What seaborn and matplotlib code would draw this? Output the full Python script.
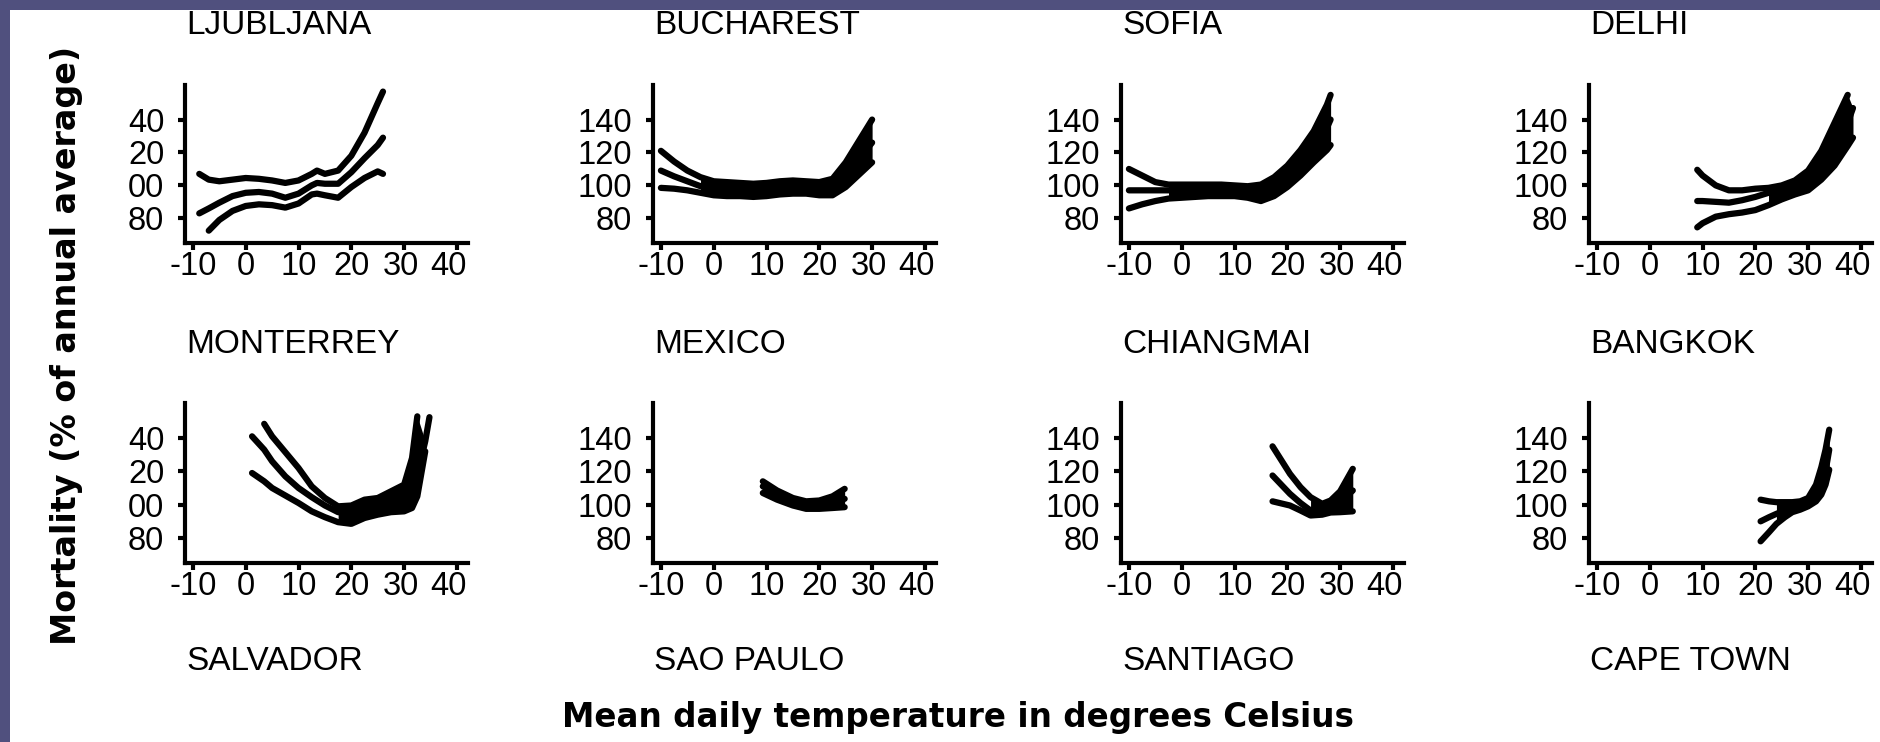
import numpy as np
import pandas as pd
import matplotlib
matplotlib.use("Agg")
import matplotlib.pyplot as plt
from matplotlib.patches import Rectangle
from matplotlib.transforms import ScaledTranslation
import seaborn as sns

# ---------------- data ----------------
x_ticks = [-10, 0, 10, 20, 30, 40]
x_tick_labels = ["-10", "0", "10", "20", "30", "40"]
y_ticks = [80, 100, 120, 140]
y_tick_labels_first_col = ["80", "00", "20", "40"]
y_tick_labels_other_cols = ["80", "100", "120", "140"]

city_names = ["LJUBLJANA", "BUCHAREST", "SOFIA", "DELHI",
              "MONTERREY", "MEXICO", "CHIANGMAI", "BANGKOK"]
bottom_row_names = ["SALVADOR", "SAO PAULO", "SANTIAGO", "CAPE TOWN"]

nan = np.nan

ljubljana_temp = [-8.8, -7, -5, -2.5, 0, 2.5, 5, 7.5, 10, 12.5, 13.5, 15, 17.5, 20, 22.5, 25, 26]
ljubljana_upper = [107, 103.5, 102.5, 103.5, 104.5, 104, 103, 101.5, 103, 107, 109, 107, 109, 118, 132, 150, 157]
ljubljana_middle = [83, 86, 89.5, 93.5, 95.5, 96, 95, 92.5, 95, 100, 101.5, 101, 101, 108, 116.5, 124.5, 129]
ljubljana_lower = [nan, 72.5, 79, 84.5, 87.5, 88.5, 88, 86.5, 89, 94.5, 95, 94, 92.5, 99, 104.5, 108.5, 107]
ljubljana_fill_from = 99

bucharest_temp = [-10, -7.5, -5, -2.5, 0, 2.5, 5, 7.5, 10, 12.5, 15, 17.5, 20, 22.5, 25, 27.5, 30]
bucharest_upper = [121, 114.5, 109, 105, 102.5, 102, 101.5, 101, 101.5, 102.5, 103, 102.5, 102, 104, 114, 127, 140]
bucharest_middle = [109, 105.5, 102.5, 99.5, 98, 97.5, 97, 97, 97.5, 98, 98.5, 98, 97.5, 99, 107, 116, 126]
bucharest_lower = [98.5, 98, 97, 95.5, 94, 93.5, 93.5, 93, 93.5, 94.5, 95, 95, 94, 94, 99, 106.5, 114]
bucharest_fill_from = -2.5

sofia_temp = [-10, -7.5, -5, -2.5, 0, 2.5, 5, 7.5, 10, 12.5, 15, 17.5, 20, 22.5, 25, 27.5, 28.2]
sofia_upper = [110, 106, 102, 100.5, 100.5, 100.5, 100.5, 100.5, 100, 99.5, 100.5, 105, 112, 121.5, 133, 149, 155]
sofia_middle = [97, 97, 97, 97, 97.5, 98, 98, 98, 97.5, 96.5, 96, 99, 106, 114, 123, 135, 140]
sofia_lower = [86, 88.5, 90.5, 92, 92.5, 93, 93.5, 93.5, 93.5, 92.5, 90.5, 93.5, 99, 106, 114, 121.5, 124.5]
sofia_fill_from = -2.5

delhi_temp = [9, 10, 12.5, 15, 17.5, 20, 22.5, 25, 27.5, 30, 32.5, 35, 37.5, 38.5]
delhi_upper = [109.5, 106, 100, 97, 97, 98, 98.5, 100, 103, 109, 121, 138, 155, nan]
delhi_middle = [90.5, 90.5, 90, 89.5, 91, 93, 95.5, 97.5, 99, 101, 110, 124, 138, 147]
delhi_lower = [74.5, 77, 81, 82.5, 83.5, 85, 88, 91.5, 94.5, 97, 103.5, 112, 124, 129]
delhi_fill_from = 22.5

monterrey_temp = [1.2, 3.5, 5, 7.5, 10, 12.5, 15, 17.5, 20, 22.5, 25, 27.5, 30, 31.5, 32.5, 34, 34.8]
monterrey_upper = [nan, 148.5, 141, 131.5, 122, 111, 104, 99, 99.5, 103, 104, 108, 112, 128, 153, nan, nan]
monterrey_middle = [141, 133, 126, 117, 110, 104.5, 99.5, 95.5, 95, 101, 101, 98.5, 101, 106, 118, 138, 152.5]
monterrey_lower = [119, 114, 110, 105.5, 101, 96, 92.5, 89.5, 88.5, 92, 94, 95.5, 96, 98, 105, 132, nan]
monterrey_fill_from = 17.5

mexico_temp = [9.3, 12, 15, 17.5, 20, 22.5, 24.8]
mexico_upper = [114, 108.5, 104, 102, 102.5, 105, 109.5]
mexico_middle = [111, 106, 102, 100, 100, 101.5, 103.5]
mexico_lower = [107, 103, 99.5, 97.5, 97.5, 98, 98.5]
mexico_fill_from = 9.3

chiangmai_temp = [17.2, 20.5, 22.5, 24.4, 26.6, 28.2, 30, 32.4]
chiangmai_upper = [135, 118.5, 110.5, 104.5, 100.5, 102.5, 108, 121.5]
chiangmai_middle = [117.5, 106.5, 101, 96.5, 97, 98.5, 101.5, 108.5]
chiangmai_lower = [102, 99.5, 96.5, 93.5, 94, 95.3, 95.5, 96]
chiangmai_fill_from = 24.4

bangkok_temp = [21, 22.6, 24, 25.6, 27, 28.5, 30, 31.5, 32.5, 33.3, 34]
bangkok_upper = [103, 102, 101.5, 101.5, 101.5, 102, 104, 112, 122.5, 133, 145]
bangkok_middle = [90, 92.5, 94.5, 96.5, 98, 99, 100.5, 104, 110.5, 120, 133]
bangkok_lower = [78, 83.5, 88.5, 92.5, 95.5, 97, 99, 102, 106, 112, 121]
bangkok_fill_from = 24

x_label = "Mean daily temperature in degrees Celsius"
y_label = "Mortality (% of annual average)"

city_data = [
    (ljubljana_temp, ljubljana_upper, ljubljana_middle, ljubljana_lower, ljubljana_fill_from),
    (bucharest_temp, bucharest_upper, bucharest_middle, bucharest_lower, bucharest_fill_from),
    (sofia_temp, sofia_upper, sofia_middle, sofia_lower, sofia_fill_from),
    (delhi_temp, delhi_upper, delhi_middle, delhi_lower, delhi_fill_from),
    (monterrey_temp, monterrey_upper, monterrey_middle, monterrey_lower, monterrey_fill_from),
    (mexico_temp, mexico_upper, mexico_middle, mexico_lower, mexico_fill_from),
    (chiangmai_temp, chiangmai_upper, chiangmai_middle, chiangmai_lower, chiangmai_fill_from),
    (bangkok_temp, bangkok_upper, bangkok_middle, bangkok_lower, bangkok_fill_from),
]

# ---------------- style ----------------
sns.set_theme(style="ticks")
plt.rcParams["font.family"] = ["Liberation Sans", "DejaVu Sans"]
plt.rcParams["axes.unicode_minus"] = False

W, H = 1881, 742
fig = plt.figure(figsize=(W / 100, H / 100), dpi=100, facecolor="white")

# slide background strips (left and top)
slide_col = "#50507e"
fig.add_artist(Rectangle((0, 0), 10 / W, 1, transform=fig.transFigure,
                         facecolor=slide_col, edgecolor="none", zorder=0))
fig.add_artist(Rectangle((0, 1 - 10 / H), 1, 10 / H, transform=fig.transFigure,
                         facecolor=slide_col, edgecolor="none", zorder=0))

col_left_px = [185, 653, 1121, 1589]
ax_w_px = 283
row_top_px = [85, 403]
row_bottom_px = [243, 563]
title_baseline_px = [33.5, 353, 670]

for i, (name, (t, up, mid, lo, fill_from)) in enumerate(zip(city_names, city_data)):
    r, c = divmod(i, 4)
    left = col_left_px[c] / W
    bottom = (H - row_bottom_px[r]) / H
    height = (row_bottom_px[r] - row_top_px[r]) / H
    ax = fig.add_axes([left, bottom, ax_w_px / W, height])
    ax.set_facecolor("none")

    n = len(t)
    df = pd.DataFrame({
        "temp": list(t) * 3,
        "mort": list(up) + list(mid) + list(lo),
        "curve": ["upper"] * n + ["middle"] * n + ["lower"] * n,
    }).dropna()
    sns.lineplot(data=df, x="temp", y="mort", units="curve", estimator=None,
                 color="black", linewidth=4.5, solid_capstyle="round", ax=ax)

    ta = np.array(t, dtype=float)
    stack = np.vstack([up, mid, lo]).astype(float)
    m = ta >= fill_from
    if m.sum() > 1:
        ax.fill_between(ta[m], np.nanmin(stack[:, m], axis=0), np.nanmax(stack[:, m], axis=0),
                        color="black", linewidth=0)

    ax.set_xlim(-11.5, 42.1)
    ax.set_ylim(65, 161)
    ax.set_xticks(x_ticks)
    ax.set_xticklabels(x_tick_labels)
    ax.set_yticks(y_ticks)
    ax.set_yticklabels(y_tick_labels_first_col if c == 0 else y_tick_labels_other_cols)
    ax.set_xlabel("")
    ax.set_ylabel("")
    for s in ["top", "right"]:
        ax.spines[s].set_visible(False)
    for s in ["left", "bottom"]:
        ax.spines[s].set_linewidth(3)
        ax.spines[s].set_color("black")
    ax.tick_params(axis="both", direction="out", length=5, width=3, color="black",
                   labelcolor="black", labelsize=23.5, left=True, bottom=True)
    ax.tick_params(axis="x", pad=1)
    ax.tick_params(axis="y", pad=10)
    # the last two x labels sit tight together in the original ("3040")
    xl = ax.get_xticklabels()
    xl[-2].set_transform(xl[-2].get_transform() + ScaledTranslation(-3 / 100, 0, fig.dpi_scale_trans))
    xl[-1].set_transform(xl[-1].get_transform() + ScaledTranslation(-8 / 100, 0, fig.dpi_scale_trans))

    fig.text((col_left_px[c] + 1) / W, (H - title_baseline_px[r]) / H, name,
             ha="left", va="baseline", fontsize=24, color="black")

for c, name in enumerate(bottom_row_names):
    fig.text((col_left_px[c] + 1) / W, (H - title_baseline_px[2]) / H, name,
             ha="left", va="baseline", fontsize=24, color="black")

fig.text(67 / W, (H - 345) / H, y_label, rotation=90, ha="center", va="center",
         fontsize=24, fontweight="bold", family=["DejaVu Sans"], color="black")
fig.text(958 / W, (H - 727) / H, x_label, ha="center", va="baseline",
         fontsize=23.5, fontweight="bold", family=["DejaVu Sans"], color="black")

fig.savefig("out.png", dpi=100, facecolor="white")
